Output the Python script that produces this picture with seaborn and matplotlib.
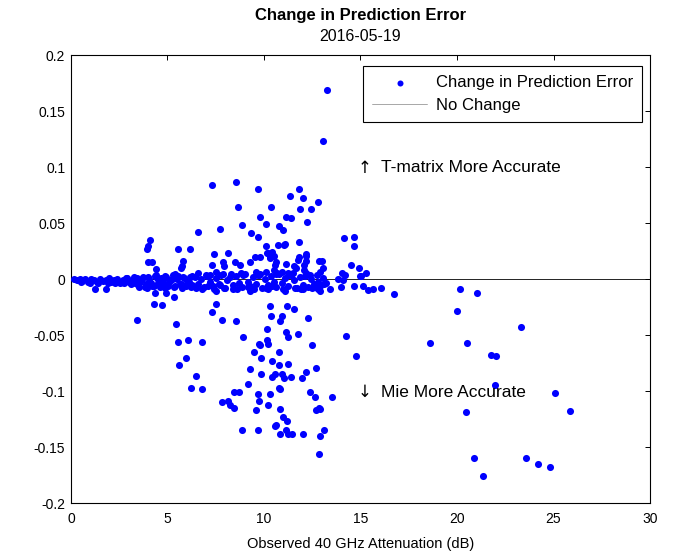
import matplotlib
matplotlib.use("Agg")
import matplotlib.pyplot as plt
import seaborn as sns
import pandas as pd

# ---------------- data ----------------
upper_pts = [
    (13.26, 0.169), (13.06, 0.1235), (7.32, 0.084), (8.57, 0.0866), (9.67, 0.0806),
    (11.81, 0.0806), (11.33, 0.0747), (12.02, 0.0723), (12.78, 0.0688), (8.64, 0.065),
    (10.36, 0.065), (11.88, 0.0628), (12.44, 0.0628), (9.81, 0.0556), (11.12, 0.0556),
    (11.40, 0.0545), (12.23, 0.0509), (10.09, 0.0497), (8.84, 0.0485), (10.78, 0.0473),
    (10.98, 0.0438), (6.56, 0.0426), (7.74, 0.0449), (9.33, 0.0413), (9.67, 0.0378),
    (14.16, 0.0366), (14.65, 0.0378), (14.65, 0.0295), (4.08, 0.0354), (4.0, 0.0295),
    (3.94, 0.027), (5.53, 0.027), (6.15, 0.027), (10.09, 0.0295), (10.71, 0.0306),
    (11.05, 0.0306), (11.81, 0.033), (7.39, 0.0223), (8.15, 0.0235), (10.22, 0.0235),
    (10.43, 0.0246), (12.16, 0.0223), (4.0, 0.0152), (4.21, 0.0152), (4.42, 0.0092),
    (5.80, 0.0163), (5.74, 0.0116), (7.32, 0.0128), (7.88, 0.0152), (7.94, 0.0121),
    (8.50, 0.0152), (8.77, 0.0128), (7.53, 0.0068), (9.26, 0.0152), (9.53, 0.0199),
    (9.81, 0.0199), (10.29, 0.0188), (10.64, 0.0152), (11.12, 0.014), (11.75, 0.0175),
    (11.81, 0.0199), (12.16, 0.021), (11.54, 0.0116), (12.09, 0.0128), (12.09, 0.008),
    (12.99, 0.0163), (13.06, 0.0104), (12.92, 0.0068), (14.51, 0.0128), (14.92, 0.0104),
    (10.09, 0.0068), (10.50, 0.008), (10.92, 0.0068), (11.26, 0.0056), (14.03, 0.0056),
    (9.60, 0.0068), (10.33, 0.0196), (10.57, 0.0125), (12.16, 0.0161), (12.85, 0.0161),
    (11.67, 0.0101), (7.19, 0.0036), (15.28, 0.0054), (15.01, 0.0029), (14.18, 0.0041),
    (5.39, 0.0045), (5.68, 0.0104), (10.17, 0.0235), (10.52, 0.021), (11.07, 0.0313),
]

lower_pts = [
    (1.24, -0.0087), (1.80, -0.0087), (4.35, -0.0122), (4.91, -0.0122), (4.28, -0.0218),
    (4.70, -0.023), (5.32, -0.0158), (3.45, -0.036), (7.53, -0.0218), (7.32, -0.0289),
    (7.81, -0.036), (8.57, -0.0372), (5.46, -0.0396), (10.29, -0.0241), (10.36, -0.0325),
    (10.85, -0.0372), (10.92, -0.0325), (11.19, -0.0241), (11.54, -0.0265), (12.30, -0.0348),
    (10.16, -0.0444), (11.12, -0.0468), (11.26, -0.0515), (11.75, -0.0491), (14.23, -0.0503),
    (8.91, -0.0515), (10.16, -0.0545), (10.22, -0.0575), (9.81, -0.0587), (9.74, -0.0578),
    (9.47, -0.0646), (10.78, -0.0646), (9.86, -0.0706), (10.43, -0.073), (10.78, -0.0765),
    (11.26, -0.0753), (12.50, -0.0587), (14.78, -0.0682), (5.53, -0.0563), (6.08, -0.0539),
    (6.77, -0.0563), (5.94, -0.0706), (5.60, -0.0765), (6.49, -0.086), (6.22, -0.0968),
    (6.77, -0.098), (9.26, -0.080), (9.86, -0.0848), (10.43, -0.0872), (10.57, -0.0848),
    (10.92, -0.0848), (11.05, -0.0884), (11.40, -0.0872), (11.95, -0.0884), (12.16, -0.0825),
    (12.71, -0.0789), (9.19, -0.0932), (10.78, -0.0968), (10.85, -0.0975), (8.43, -0.1003),
    (8.70, -0.1003), (9.67, -0.1027), (10.29, -0.1027), (12.37, -0.1003), (12.64, -0.105),
    (13.54, -0.105), (7.81, -0.1098), (8.15, -0.1087), (8.22, -0.1122), (8.43, -0.1146),
    (9.74, -0.1087), (9.60, -0.117), (10.22, -0.1122), (10.85, -0.1158), (10.98, -0.123),
    (11.19, -0.1265), (10.57, -0.1313), (10.64, -0.1300), (10.85, -0.1384), (11.12, -0.1348),
    (11.26, -0.1384), (11.47, -0.1384), (12.02, -0.1384), (12.71, -0.117), (12.85, -0.1146),
    (12.92, -0.116), (13.12, -0.1343), (12.92, -0.1396), (12.85, -0.1563), (8.84, -0.1343),
    (9.67, -0.1343),
]

mid_pts = [
    (16.72, -0.0134), (15.40, -0.0096), (15.66, -0.0089), (16.05, -0.0078), (15.13, -0.0063),
    (14.65, -0.0063), (14.01, -0.0066), (13.42, -0.0089), (13.12, -0.0045), (12.81, -0.0021),
    (12.64, -0.0066), (13.85, 0.0), (14.09, -0.0006), (14.98, 0.0032),
]

far_pts = [
    (20.14, -0.0089), (21.02, -0.0125), (19.98, -0.028), (23.32, -0.0423), (18.60, -0.0566),
    (20.53, -0.0566), (21.74, -0.0673), (22.0, -0.0688), (21.99, -0.0946), (25.09, -0.1018),
    (20.47, -0.1188), (25.87, -0.1176), (20.90, -0.1593), (23.58, -0.1593), (24.20, -0.1652),
    (24.82, -0.1676), (21.36, -0.1759),
]

band_pts = [
    (0.15, 0.0), (0.3, -0.001), (0.45, 0.0005), (0.6, -0.0015), (0.75, 0.0), (0.9, -0.002),
    (1.05, 0.0005), (1.2, -0.001), (1.35, -0.0025), (1.5, 0.0), (1.65, -0.0015), (1.8, -0.001),
    (1.95, 0.0005), (2.1, -0.002), (2.25, -0.001), (2.4, 0.0), (2.55, -0.003), (2.7, -0.001),
    (2.85, 0.001), (3.0, -0.002), (3.15, -0.0005), (3.3, -0.003),
    (0.5, -0.002), (1.0, -0.003), (1.4, -0.0035), (1.9, -0.003), (2.3, -0.0035),
    (2.75, -0.003), (3.1, -0.004), (2.0, 0.001), (2.9, 0.0015), (3.25, 0.002),
    (3.45, 0.001), (3.6, -0.002), (3.75, 0.002), (3.9, -0.004), (4.05, 0.0), (4.2, -0.006),
    (4.35, 0.003), (4.5, -0.003), (4.65, 0.001), (4.8, -0.005), (4.95, 0.002), (5.1, -0.002),
    (5.25, 0.0), (5.4, -0.006), (5.55, 0.003), (5.7, -0.004), (5.85, 0.001), (6.0, -0.003),
    (6.15, 0.002), (6.3, -0.005),
    (3.5, -0.005), (3.7, 0.0), (3.85, -0.007), (4.0, 0.002), (4.15, -0.003), (4.3, -0.006),
    (4.45, 0.001), (4.6, -0.007), (4.75, -0.002), (4.9, 0.003), (5.05, -0.006), (5.2, -0.001),
    (5.35, -0.007), (5.5, 0.0), (5.65, -0.004), (5.8, 0.002), (5.95, -0.006), (6.1, -0.002),
    (6.25, 0.003),
    (3.55, -0.007), (3.95, -0.008), (4.4, 0.004), (4.85, -0.008), (5.3, 0.004),
    (5.75, -0.008), (6.2, -0.007),
    (6.45, 0.002), (6.6, -0.004), (6.75, 0.0), (6.9, -0.007), (7.05, 0.003), (7.2, -0.002),
    (7.35, -0.006), (7.5, 0.001), (7.65, -0.004), (7.8, 0.004), (7.95, -0.008), (8.1, -0.001),
    (8.25, 0.002), (8.4, -0.005), (8.55, 0.003), (8.7, -0.003), (8.85, -0.007), (9.0, 0.005),
    (9.15, -0.002), (9.3, -0.006), (9.45, 0.002), (9.6, -0.004), (9.75, 0.004), (9.9, -0.008),
    (10.05, 0.0), (10.2, -0.005), (10.35, 0.003), (10.5, -0.002), (10.65, -0.007), (10.8, 0.005),
    (10.95, -0.003), (11.1, 0.001), (11.25, -0.006), (11.4, 0.004), (11.55, -0.001), (11.7, -0.008),
    (11.85, 0.002), (12.0, -0.005), (12.15, 0.003), (12.3, -0.007), (12.45, 0.0), (12.6, -0.004),
    (12.75, 0.004), (12.9, -0.006), (13.05, 0.001), (13.2, -0.003),
    (6.5, -0.008), (6.8, -0.009), (7.1, -0.006), (7.4, -0.009), (7.7, -0.005), (8.0, -0.008),
    (8.3, 0.005), (8.6, -0.009), (8.9, 0.004), (9.2, -0.007), (9.5, -0.009), (9.8, 0.005),
    (10.1, -0.008), (10.4, -0.006), (10.7, 0.006), (11.0, -0.009), (11.3, 0.004), (11.6, -0.008),
    (11.9, -0.009), (12.2, 0.006), (12.5, -0.008), (12.8, -0.009),
    (6.6, 0.006), (7.0, 0.004), (7.5, -0.01), (7.9, 0.005), (8.4, -0.009), (8.8, 0.006),
    (9.3, -0.01), (9.7, 0.004), (10.2, -0.009), (10.6, 0.005), (11.1, -0.01), (11.5, 0.006),
    (12.0, -0.009), (12.4, 0.004), (12.9, -0.01),
]

x_ticks = [0, 5, 10, 15, 20, 25, 30]
y_ticks = [-0.2, -0.15, -0.1, -0.05, 0, 0.05, 0.1, 0.15, 0.2]
y_tick_labels = ["-0.2", "-0.15", "-0.1", "-0.05", "0", "0.05", "0.1", "0.15", "0.2"]

# ---------------- figure ----------------
sns.set_theme(style="white")
plt.rcParams["font.family"] = ["Liberation Sans", "DejaVu Sans"]
plt.rcParams["font.size"] = 10
plt.rcParams["text.color"] = "black"
plt.rcParams["axes.labelcolor"] = "black"
plt.rcParams["xtick.color"] = "black"
plt.rcParams["ytick.color"] = "black"

all_pts = band_pts + upper_pts + lower_pts + mid_pts + far_pts
df = pd.DataFrame(all_pts, columns=["att", "chg"])

fig = plt.figure(figsize=(6.75, 5.52), dpi=100)
ax = fig.add_axes([0.105, 0.0882, 0.858, 0.8116])

sns.scatterplot(data=df, x="att", y="chg", color="#0000ff", s=26, linewidth=0,
                ax=ax, label="Change in Prediction Error", zorder=3)
ax.axhline(0, color="black", lw=0.6, label="No Change", zorder=2)

ax.set_xlim(0, 30)
ax.set_ylim(-0.2, 0.2)
ax.set_xticks(x_ticks)
ax.set_xticklabels([str(t) for t in x_ticks])
ax.set_yticks(y_ticks)
ax.set_yticklabels(y_tick_labels)
ax.tick_params(direction="in", length=3.5, width=0.7, top=True, right=True,
               labelsize=10, colors="black")
ax.tick_params(axis="x", pad=6)
ax.tick_params(axis="y", pad=4)
for sp in ax.spines.values():
    sp.set_color("black")
    sp.set_linewidth(0.8)

ax.set_xlabel("Observed 40 GHz Attenuation (dB)", fontsize=10.5, labelpad=8,
              color="black")
ax.set_ylabel("")

ax.text(0.5, 1.088, "Change in Prediction Error", transform=ax.transAxes,
        ha="center", va="center", fontsize=12, fontweight="bold", color="black")
ax.text(0.5, 1.041, "2016-05-19", transform=ax.transAxes,
        ha="center", va="center", fontsize=11.5, color="black")

ax.text(15.23, 0.0996, "\u2191", ha="center", va="center", fontsize=12,
        family=["DejaVu Sans"], color="black")
ax.text(16.08, 0.0996, "T-matrix More Accurate", ha="left", va="center",
        fontsize=12.5, color="black")
ax.text(15.23, -0.1009, "\u2193", ha="center", va="center", fontsize=12,
        family=["DejaVu Sans"], color="black")
ax.text(16.08, -0.1009, "Mie More Accurate", ha="left", va="center",
        fontsize=12.5, color="black")

h, l = ax.get_legend_handles_labels()
leg = ax.legend(h, l, loc="upper right", bbox_to_anchor=(0.986, 0.976),
                frameon=True, fancybox=False, edgecolor="black", framealpha=1,
                borderpad=0.55, handlelength=3.3, handletextpad=0.5,
                labelspacing=0.45, borderaxespad=0, fontsize=12, markerscale=0.85)
leg.get_frame().set_linewidth(0.8)
for line in leg.get_lines():
    line.set_color("#999999")
for t in leg.get_texts():
    t.set_color("black")

fig.savefig("out.png", dpi=100)
